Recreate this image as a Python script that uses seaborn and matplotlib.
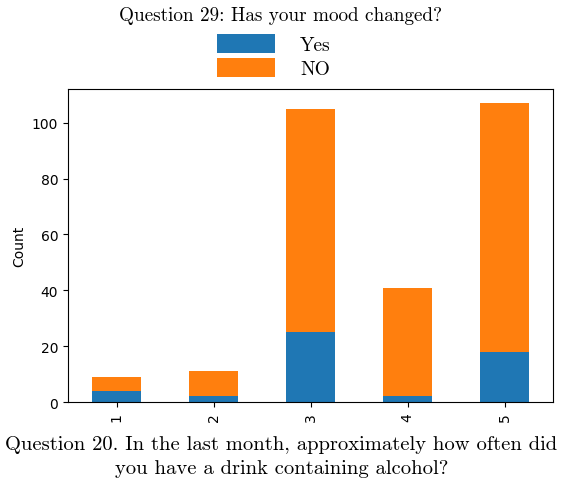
import matplotlib
matplotlib.use("Agg")
import matplotlib.pyplot as plt
from matplotlib.patches import Patch
import pandas
import seaborn

categories = ["1", "2", "3", "4", "5"]
yes_counts = [4, 2, 25, 2, 18]
no_counts = [5, 9, 80, 39, 89]

df = pandas.DataFrame({"answer": categories, "Yes": yes_counts, "NO": no_counts})
df["total"] = df["Yes"] + df["NO"]

serif = ["cmr10", "DejaVu Serif"]

fig = plt.figure(figsize=(5.62, 4.85), dpi=100)
ax = fig.add_axes([0.121, 0.169, 0.863, 0.645])

# stacked: draw total (orange) first, then Yes (blue) over it
seaborn.barplot(data=df, x="answer", y="total", color="#ff7f0e", saturation=1, width=0.5, ax=ax)
seaborn.barplot(data=df, x="answer", y="Yes", color="#1f77b4", saturation=1, width=0.5, ax=ax)

ax.set_ylim(0, 112)
ax.set_ylabel("Count")
ax.set_xlabel("Question 20. In the last month, approximately how often did\nyou have a drink containing alcohol?",
              fontfamily=serif, fontsize=14.8, linespacing=1.45, labelpad=10, x=0.44)
ax.tick_params(axis="x", labelrotation=90)

fig.text(0.5, 0.968, "Question 29: Has your mood changed?", ha="center", va="center",
         fontfamily=serif, fontsize=13.8)

handles = [Patch(facecolor="#1f77b4", label="Yes"), Patch(facecolor="#ff7f0e", label="NO")]
fig.legend(handles=handles, loc="upper center", bbox_to_anchor=(0.487, 0.955), frameon=False,
           prop={"family": serif, "size": 14}, handlelength=3.0, handleheight=1.1,
           labelspacing=0.2, handletextpad=1.3, borderpad=0.2)

fig.savefig("out.png", dpi=100)
